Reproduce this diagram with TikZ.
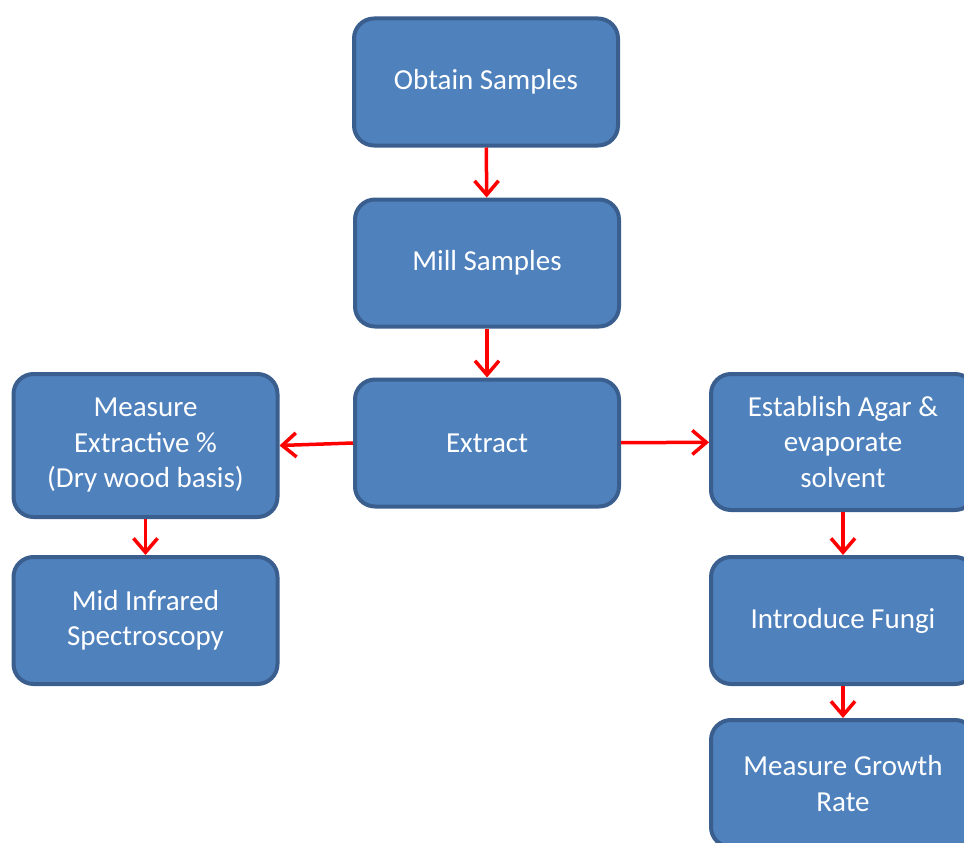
\documentclass[tikz,border=0pt]{standalone}
\usepackage{fontspec}
\setmainfont{Carlito}
\usepackage{tikz}
\usetikzlibrary{arrows.meta}

\definecolor{boxfill}{HTML}{4F81BD}
\definecolor{boxline}{HTML}{3A5F8E}

\begin{document}
\begin{tikzpicture}[x=1pt,y=-1pt,
    % the blue process boxes
    stepbox/.style={draw=boxline, fill=boxfill, line width=4pt, rounded corners=20pt,
      minimum width=264pt, minimum height=127pt, align=center, text=white,
      font=\fontsize{29}{35.5}\selectfont},
    % the red connectors
    flow/.style={-{Straight Barb[length=14pt,width=24pt,line width=3.5pt]}, red, line width=3.5pt}]

    % fix the page to the reference size
    \useasboundingbox (0,0) rectangle (964,843);
    \clip (0,0) rectangle (964,843);

    % middle column
    \node[stepbox] (obtain) at (486,82) {Obtain Samples};
    \node[stepbox] (mill) at (487,263) {Mill Samples};
    \node[stepbox] (extract) at (487,443) {Extract};

    % left column
    \node[stepbox, minimum height=143pt] (extractive) at (145.5,445.5) {Measure\\Extractive \%\\(Dry wood basis)};
    \node[stepbox] (infrared) at (145.5,620.5) {Mid Infrared\\Spectroscopy};

    % right column
    \node[stepbox, minimum height=136pt] (agar) at (843,442) {Establish Agar \&\\evaporate\\solvent};
    \node[stepbox] (fungi) at (843,620.5) {Introduce Fungi};
    \node[stepbox] (growth) at (843,783.5) {Measure Growth\\Rate};

    % arrows
    \draw[flow] (obtain) -- (mill);
    \draw[flow] (mill) -- (extract);
    \draw[flow] (extract.west) -- (extractive.east);
    \draw[flow] (extract) -- (agar);
    \draw[flow] (extractive) -- (infrared);
    \draw[flow] (agar) -- (fungi);
    \draw[flow] (fungi) -- (growth);

\end{tikzpicture}
\end{document}
